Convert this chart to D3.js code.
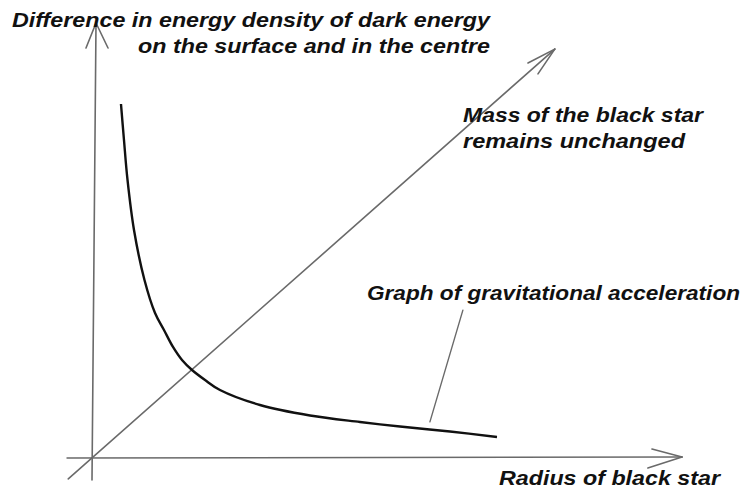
<!DOCTYPE html>
<html>
<head>
<meta charset="utf-8">
<script src="https://cdn.jsdelivr.net/npm/d3@7"></script>
<style>
	body { margin: 0; background: #fff; }
	text { font-family: "Liberation Sans", Arial, sans-serif; font-weight: bold; font-style: italic; font-size: 20px; fill: #111; }
</style>
</head>
<body>
<svg id="chart" width="746" height="491"></svg>
<script>
//curve (arbitrary units, 0..10 on both axes)
var curveX = [0.475, 0.526, 0.586, 0.696, 0.874, 1.053, 1.205, 1.358, 1.511, 1.681, 1.902, 2.156, 2.835, 3.684, 4.533, 5.212, 6.061, 6.859];
var curveY = [8.138, 7.310, 6.391, 5.241, 4.092, 3.333, 2.943, 2.552, 2.253, 2.023, 1.793, 1.563, 1.218, 0.977, 0.828, 0.724, 0.609, 0.483];

//axes, diagonal and arrow heads as [x1,y1,x2,y2]
var yAxisSeg = [[-0.017, -0.506, 0.051, 10], [0.051, 10, -0.119, 9.425], [0.051, 10, 0.255, 9.425]];
var xAxisSeg = [[-0.44, 0, 10, 0.023], [10, 0.023, 9.49, 0.207], [10, 0.023, 9.42, -0.23]];
var massSeg = [[-0.42, -0.48, 7.84, 9.40], [7.84, 9.40, 7.385, 9.08], [7.84, 9.40, 7.555, 8.83]];
var pointerSeg = [[6.28, 3.40, 5.72, 0.83]];

//labels
var yLabel = ["Difference in energy density of dark energy", "on the surface and in the centre"];
var massLabel = ["Mass of the black star", "remains unchanged"];
var curveLabel = "Graph of gravitational acceleration";
var xLabel = "Radius of black star";

var svg = d3.select("#chart");
var x = d3.scaleLinear().domain([0, 10]).range([93, 682]);
var y = d3.scaleLinear().domain([0, 10]).range([458, 23]);

function drawSegs(segs, color, width)
{
	svg.append("g").selectAll("line")
		.data(segs)
		.enter().append("line")
		.attr("x1", function(d) { return x(d[0]); })
		.attr("y1", function(d) { return y(d[1]); })
		.attr("x2", function(d) { return x(d[2]); })
		.attr("y2", function(d) { return y(d[3]); })
		.attr("stroke", color)
		.attr("stroke-width", width)
		.attr("stroke-linecap", "round");
}

drawSegs(yAxisSeg, "#6a6a6a", 1.6);
drawSegs(xAxisSeg, "#6a6a6a", 1.6);
drawSegs(massSeg, "#6a6a6a", 1.6);
drawSegs(pointerSeg, "#6a6a6a", 1.4);

//the curve
var pts = curveX.map(function(v, i) { return [v, curveY[i]]; });
var line = d3.line()
	.x(function(d) { return x(d[0]); })
	.y(function(d) { return y(d[1]); })
	.curve(d3.curveCatmullRom.alpha(0.5));
svg.append("path")
	.datum(pts)
	.attr("d", line)
	.attr("fill", "none")
	.attr("stroke", "#111")
	.attr("stroke-width", 2.4);

//texts, the picture's lettering is wider than the font so stretch to the measured width
function label(str, px, py, w)
{
	svg.append("text")
		.attr("x", px)
		.attr("y", py)
		.attr("textLength", w)
		.attr("lengthAdjust", "spacingAndGlyphs")
		.text(str);
}
label(yLabel[0], 12, 27, 478);
label(yLabel[1], 138, 53, 352);
label(massLabel[0], 463, 122, 240);
label(massLabel[1], 463, 148, 222);
label(curveLabel, 367, 300, 373);
label(xLabel, 499, 485, 221);
</script>
</body>
</html>
